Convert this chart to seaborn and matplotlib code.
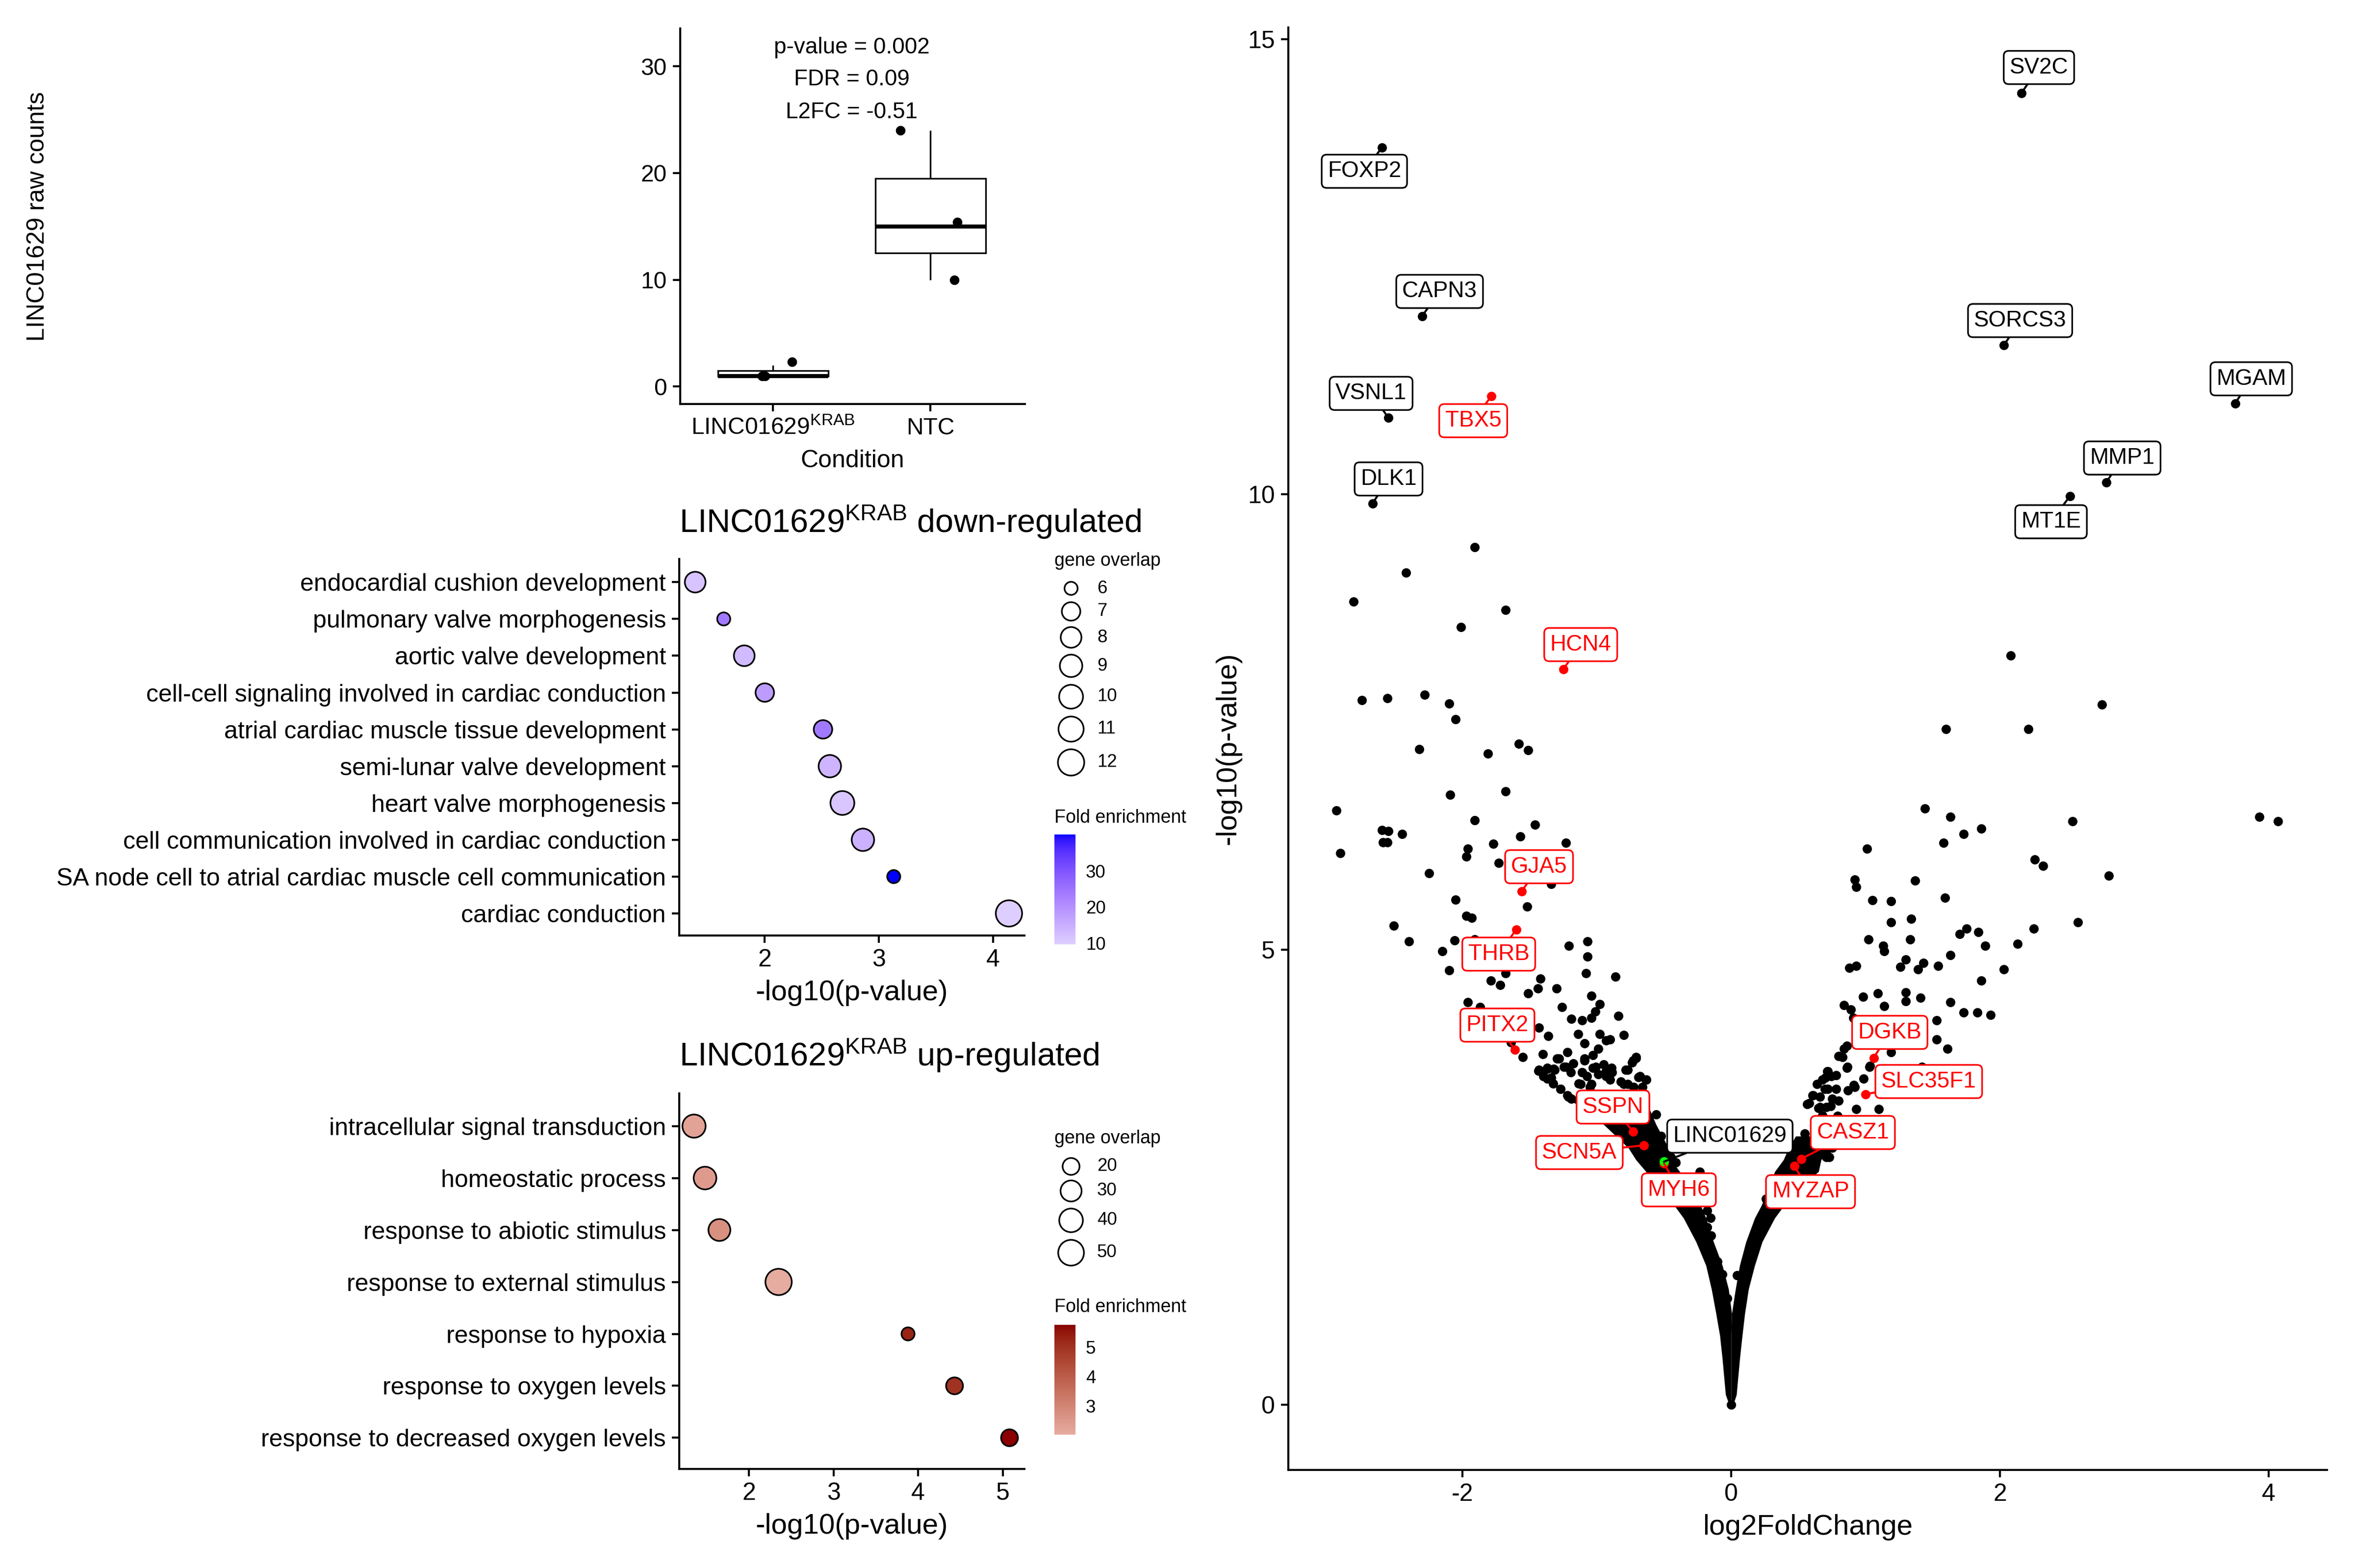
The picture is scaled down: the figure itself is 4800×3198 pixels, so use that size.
import numpy as np
import pandas as pd
import matplotlib
matplotlib.use('Agg')
import matplotlib.pyplot as plt
from matplotlib.colors import ListedColormap, Normalize, to_rgb
from matplotlib.cm import ScalarMappable
import seaborn as sns

# ---------------- data ----------------

# boxplot: LINC01629 raw counts per replicate
box_conditions = ['krab', 'ntc']
counts_krab = [1, 1, 2]
counts_ntc = [10, 15, 24]
# jittered points, as drawn
jit_krab_dx = [-0.07, -0.05, 0.12]
jit_krab_y = [1.0, 1.0, 2.3]
jit_ntc_dx = [-0.19, 0.17, 0.15]
jit_ntc_y = [24.0, 15.4, 10.0]
stats_text = ['p-value = 0.002', 'FDR = 0.09', 'L2FC = -0.51']
stats_y = [31.75, 28.75, 25.7]

# GO terms, down-regulated
down_terms = ['endocardial cushion development', 'pulmonary valve morphogenesis',
              'aortic valve development', 'cell-cell signaling involved in cardiac conduction',
              'atrial cardiac muscle tissue development', 'semi-lunar valve development',
              'heart valve morphogenesis', 'cell communication involved in cardiac conduction',
              'SA node cell to atrial cardiac muscle cell communication', 'cardiac conduction']
down_logp = [1.39, 1.64, 1.82, 2.00, 2.51, 2.57, 2.68, 2.86, 3.13, 4.14]
down_overlap = [8, 6, 8, 7, 7, 9, 10, 9, 6, 12]
down_fe = [11.5, 24.0, 13.0, 18.0, 24.0, 14.0, 11.0, 14.5, 40.1, 9.6]
down_breaks = [6, 7, 8, 9, 10, 11, 12]
down_fe_ticks = [10, 20, 30]

# GO terms, up-regulated
up_terms = ['intracellular signal transduction', 'homeostatic process',
            'response to abiotic stimulus', 'response to external stimulus',
            'response to hypoxia', 'response to oxygen levels',
            'response to decreased oxygen levels']
up_logp = [1.35, 1.48, 1.65, 2.35, 3.88, 4.43, 5.08]
up_overlap = [38, 36, 33, 53, 17, 20, 20]
up_fe = [2.25, 2.45, 2.7, 2.02, 5.3, 5.0, 5.77]
up_breaks = [20, 30, 40, 50]
up_fe_ticks = [3, 4, 5]

# volcano: scattered genes (log2FC, -log10 p)
vol_x = [-1.91, -2.42, -2.81, -1.68, -2.01, 2.08, -2.75, -2.56, -2.28, -2.10, -2.05, 2.76, 1.60, 2.21,
         -2.32, -1.81, -1.58, -1.51,
         -2.09, -1.68, -2.94, -1.91, -1.46, -2.60, -2.55, -2.45, -2.59, -2.56, -1.57, -1.77, -1.23, -1.96,
         -2.91, -1.97, -1.73, -2.25, -1.34, -1.52, -2.05, -1.97, -1.93, -2.51, -2.40, -2.06, -1.91, -2.15,
         -2.10, -1.79, -1.68, -1.72, -1.42, -1.44, -1.30, -1.51, -1.21, -1.07, -1.07, -1.08, -0.86, -1.96,
         -1.87, -1.04, -0.98, -1.26, -1.01, -1.19, -1.11, -1.04, -0.84, -1.43, -1.36, -1.14, -0.98, -0.80,
         -1.09, -0.93, -0.90, -1.64, -1.55, -1.40, -1.28, -1.22, -1.09, -1.03, -0.99, -0.71, -0.73, -1.43,
         -1.37, -1.32, -1.23, -1.11, -1.03, -0.93, -0.89, -0.77, -1.37, -1.27, -1.12, -1.05, -0.90, -0.80,
         -0.68, -0.63, -1.22, -1.19, -0.66,
         3.93, 4.07, 1.44, 1.63, 1.86, 1.73, 1.58, 2.54, 1.01, 2.26, 2.32, 2.81, 0.92, 0.93, 1.37, 1.59,
         1.05, 1.19, 1.19, 1.34, 2.58, 2.25, 1.75, 1.70, 1.84, 1.89, 2.13, 1.02, 1.33, 1.13, 1.14, 1.30,
         1.43, 1.63, 1.26, 1.39, 1.54, 0.88, 0.93, 2.03, 1.86, 0.98, 1.09, 1.30, 1.30, 1.41, 1.14, 1.63,
         1.73, 1.83, 1.93, 0.84, 0.89, 0.91, 1.53, 1.53, 1.61, 1.19, 0.86, 0.84, 0.80, 1.42, 0.86, 1.03,
         0.72, 0.70, 0.78, 0.64, 0.72, 0.92, 0.58, 0.61, 0.66, 0.74, 0.79, 0.68, 0.78, 0.73, 0.71, 0.55,
         -1.435, -1.398, -1.370, -1.339, -1.314, -1.327, -1.296, -1.271, -1.245, -1.212, -1.193, -1.175,
         -1.137, -1.110, -1.091, -1.072, -1.039, -1.007, -0.988, -0.951, -0.932, -0.905, -0.886, -0.821,
         -0.784, -0.769, -0.737, -0.728, -0.709, -0.691, -0.635, -0.560, -0.523, -0.635, -0.676, -0.448,
         -0.411, -0.234, -0.178, -0.154, -0.178, -0.150, -0.104, -0.066, -0.029, 0.0,
         0.827, 0.865, 0.716, 0.743, 0.678, 0.697, 0.780, 0.870, 0.911, 0.985, 1.032, 0.604, 0.660, 0.753,
         0.799, 0.566, 0.650, 0.706, 0.930, 1.097, 0.548, 0.706, 0.753, 0.445, 0.408, 0.297, 0.259, 0.045]
vol_y = [9.42, 9.14, 8.82, 8.73, 8.54, 8.23, 7.74, 7.76, 7.80, 7.70, 7.53, 7.69, 7.42, 7.42,
         7.20, 7.15, 7.26, 7.19,
         6.70, 6.74, 6.53, 6.42, 6.37, 6.31, 6.30, 6.27, 6.18, 6.18, 6.24, 6.16, 6.17, 6.11,
         6.06, 6.02, 5.95, 5.84, 5.72, 5.47, 5.55, 5.37, 5.35, 5.26, 5.09, 5.10, 5.11, 4.98,
         4.77, 4.66, 4.74, 4.61, 4.68, 4.57, 4.57, 4.52, 5.04, 5.09, 4.92, 4.74, 4.70, 4.42,
         4.37, 4.49, 4.40, 4.37, 4.32, 4.24, 4.22, 4.25, 4.27, 4.14, 4.05, 4.07, 4.07, 4.06,
         3.97, 4.00, 4.01, 3.98, 3.82, 3.85, 3.80, 3.87, 3.80, 3.84, 3.91, 3.82, 3.78, 3.68,
         3.69, 3.69, 3.71, 3.65, 3.70, 3.67, 3.70, 3.68, 3.58, 3.47, 3.52, 3.49, 3.57, 3.52,
         3.61, 3.57, 3.40, 3.36, 3.49,
         6.46, 6.41, 6.55, 6.46, 6.33, 6.27, 6.17, 6.41, 6.11, 5.99, 5.92, 5.81, 5.77, 5.69, 5.76, 5.57,
         5.54, 5.53, 5.30, 5.34, 5.30, 5.23, 5.23, 5.17, 5.19, 5.04, 5.06, 5.11, 5.11, 5.04, 4.98, 4.89,
         4.85, 4.94, 4.81, 4.78, 4.82, 4.80, 4.82, 4.78, 4.66, 4.48, 4.52, 4.53, 4.43, 4.47, 4.38, 4.42,
         4.31, 4.31, 4.28, 4.39, 4.34, 4.25, 4.22, 4.01, 3.91, 3.87, 3.94, 3.91, 3.83, 3.71, 3.70, 3.71,
         3.66, 3.59, 3.62, 3.52, 3.47, 3.49, 3.31, 3.40, 3.27, 3.28, 3.17, 3.18, 3.12, 2.72, 2.80, 2.92,
         3.67, 3.61, 3.70, 3.59, 3.68, 3.53, 3.80, 3.47, 3.71, 3.38, 3.65, 3.75,
         3.53, 3.65, 3.78, 3.61, 3.52, 3.71, 3.63, 3.74, 3.61, 3.68, 3.65, 3.55,
         3.68, 3.52, 3.76, 3.49, 3.81, 3.60, 3.57, 3.19, 2.95, 3.05, 2.96, 2.72,
         2.66, 2.56, 2.13, 2.05, 1.95, 1.86, 1.57, 1.43, 1.17, 0.0,
         3.82, 3.71, 3.66, 3.61, 3.57, 3.47, 3.47, 3.45, 3.51, 3.58, 3.72, 3.40, 3.38, 3.36,
         3.34, 3.30, 3.26, 3.27, 3.25, 3.25, 2.98, 2.72, 2.82, 2.77, 2.64, 2.41, 2.26, 1.42]

# volcano: the dense V of non-significant genes, outer/inner edges per -log10 p level
arm_left_y = [0.00, 0.11, 0.50, 0.76, 1.00, 1.27, 1.53, 1.79, 2.05, 2.18, 2.31, 2.56, 2.69, 2.82, 3.08, 3.34]
arm_left_outer = [-0.015, -0.042, -0.066, -0.085, -0.113, -0.147, -0.188, -0.262, -0.355, -0.420,
                  -0.467, -0.634, -0.709, -0.765, -0.951, -1.19]
arm_left_inner = [0.0, 0.0, 0.0, 0.0, 0.004, -0.020, -0.066, -0.132, -0.188, -0.225,
                  -0.262, -0.383, -0.449, -0.467, -0.560, -0.634]
arm_right_y = [0.00, 0.11, 0.50, 0.76, 1.00, 1.27, 1.53, 1.79, 2.05, 2.18, 2.31, 2.56, 2.69, 2.82, 2.95]
arm_right_inner = [0.0, 0.0, 0.0, 0.0, 0.004, 0.032, 0.063, 0.110, 0.175, 0.222, 0.259, 0.324, 0.389, 0.427, 0.48]
arm_right_outer = [0.015, 0.039, 0.063, 0.082, 0.101, 0.129, 0.175, 0.231, 0.324, 0.389, 0.445, 0.650,
                   0.669, 0.743, 0.76]

# volcano: labelled genes
lab_names = ['FOXP2', 'CAPN3', 'VSNL1', 'DLK1', 'SV2C', 'SORCS3', 'MGAM', 'MMP1', 'MT1E',
             'TBX5', 'HCN4', 'GJA5', 'THRB', 'PITX2', 'DGKB', 'SLC35F1', 'SSPN', 'SCN5A',
             'MYH6', 'CASZ1', 'MYZAP', 'LINC01629']
lab_x = [-2.60, -2.30, -2.55, -2.67, 2.16, 2.03, 3.75, 2.79, 2.52,
         -1.785, -1.25, -1.56, -1.60, -1.61, 1.06, 1.00, -0.73, -0.65,
         -0.50, 0.52, 0.47, -0.50]
lab_y = [13.81, 11.96, 10.84, 9.90, 14.41, 11.64, 11.00, 10.13, 9.98,
         11.08, 8.08, 5.64, 5.22, 3.90, 3.81, 3.41, 3.00, 2.85,
         2.65, 2.70, 2.62, 2.67]
lab_tx = [-2.73, -2.17, -2.68, -2.55, 2.29, 2.15, 3.87, 2.91, 2.38,
          -1.92, -1.12, -1.43, -1.73, -1.74, 1.18, 1.47, -0.88, -1.13,
          -0.39, 0.905, 0.59, -0.01]
lab_ty = [13.55, 12.23, 11.11, 10.17, 14.69, 11.91, 11.27, 10.40, 9.70,
          10.81, 8.35, 5.91, 4.95, 4.17, 4.09, 3.55, 3.27, 2.77,
          2.36, 2.99, 2.34, 2.95]
lab_group = ['top'] * 9 + ['cardiac'] * 12 + ['target']

# ---------------- style ----------------
sns.set_style('ticks', rc={'axes.edgecolor': 'black', 'xtick.color': 'black', 'ytick.color': 'black',
                           'text.color': 'black', 'axes.labelcolor': 'black'})
plt.rcParams['font.family'] = ['Liberation Sans', 'DejaVu Sans']
plt.rcParams['mathtext.fontset'] = 'custom'
plt.rcParams['mathtext.rm'] = 'Liberation Sans'
plt.rcParams['mathtext.it'] = 'Liberation Sans:italic'
plt.rcParams['mathtext.bf'] = 'Liberation Sans:bold'
plt.rcParams['axes.unicode_minus'] = False
plt.rcParams['axes.linewidth'] = 1.0

KRAB = r'LINC01629$^{\mathrm{KRAB}}$'


# ggplot-like gradient (interpolated in CIELAB)
M_XYZ = np.array([[0.4124, 0.3576, 0.1805], [0.2126, 0.7152, 0.0722], [0.0193, 0.1192, 0.9505]])
WHITE = np.array([0.95047, 1.0, 1.08883])


def to_lab(col):
    rgb = np.array(to_rgb(col))
    lin = np.where(rgb <= 0.04045, rgb / 12.92, ((rgb + 0.055) / 1.055) ** 2.4)
    t = M_XYZ @ lin / WHITE
    f = np.where(t > (6 / 29) ** 3, np.cbrt(t), t / (3 * (6 / 29) ** 2) + 4 / 29)
    return np.array([116 * f[1] - 16, 500 * (f[0] - f[1]), 200 * (f[1] - f[2])])


def lab_cmap(low, high, n=256):
    t = np.linspace(0, 1, n)[:, None]
    lab = to_lab(low) * (1 - t) + to_lab(high) * t
    fy = (lab[:, 0] + 16) / 116
    f = np.stack([fy + lab[:, 1] / 500, fy, fy - lab[:, 2] / 200], -1)
    xyz = np.where(f > 6 / 29, f ** 3, 3 * (6 / 29) ** 2 * (f - 4 / 29)) * WHITE
    lin = xyz @ np.linalg.inv(M_XYZ).T
    lin = np.clip(lin, 0, None)
    rgb = np.where(lin <= 0.0031308, 12.92 * lin, 1.055 * lin ** (1 / 2.4) - 0.055)
    return ListedColormap(np.clip(rgb, 0, 1))


cmap_down = lab_cmap('#DECEFF', '#0000FF')
cmap_up = lab_cmap('#E6ACA0', '#8B0000')


def diam_px(v, lo, hi):
    return 30 + 27 * np.sqrt((np.asarray(v, float) - lo) / (hi - lo))


def area_pt(d, lw=0.8):
    return (np.asarray(d) * 72 / 300 - lw) ** 2


# ---------------- layout ----------------
W, H = 4800, 3198
fig = plt.figure(figsize=(16, 10.66), dpi=300)


def px_axes(left, top, right, bottom):
    return fig.add_axes([left / W, 1 - bottom / H, (right - left) / W, (bottom - top) / H])


overlay = px_axes(0, 0, W, H)
overlay.set_xlim(0, W)
overlay.set_ylim(H, 0)
overlay.axis('off')

ax_box = px_axes(1387, 58, 2090, 824)
ax_down = px_axes(1385, 1140, 2089, 1908)
ax_up = px_axes(1385, 2230, 2089, 2996)
ax_vol = px_axes(2627, 56, 4745, 2998)

tick_kw = dict(length=3.7, width=1.0, pad=2.8, colors='black')

# ---------------- boxplot ----------------
box_df = pd.DataFrame({'condition': ['krab'] * len(counts_krab) + ['ntc'] * len(counts_ntc),
                       'count': counts_krab + counts_ntc})
sns.boxplot(data=box_df, x='condition', y='count', order=box_conditions, color='white',
            linecolor='black', linewidth=0.8, width=0.7, showcaps=False, showfliers=False,
            medianprops={'linewidth': 2.0}, ax=ax_box)
pts_x = [0 + d for d in jit_krab_dx] + [1 + d for d in jit_ntc_dx]
pts_y = jit_krab_y + jit_ntc_y
sns.scatterplot(x=pts_x, y=pts_y, color='black', s=22, linewidth=0, ax=ax_box, zorder=3)
for t, y in zip(stats_text, stats_y):
    ax_box.text(0.5, y, t, ha='center', va='center', fontsize=11)
ax_box.set_xlim(-0.59, 1.6)
ax_box.set_ylim(-1.64, 33.55)
ax_box.set_yticks([0, 10, 20, 30])
ax_box.set_xticks([0, 1])
ax_box.set_xticklabels([KRAB, 'NTC'])
ax_box.tick_params(labelsize=11.5, **tick_kw)
ax_box.set_xlabel('Condition', fontsize=12, labelpad=5)
ax_box.set_ylabel('')
sns.despine(ax=ax_box)
overlay.text(77, 442, 'LINC01629 raw counts', rotation=90, ha='center', va='center', fontsize=12)


# ---------------- GO dot plots ----------------
def dot_panel(ax, terms, logp, overlap, fe, cmap, xlim, xticks, title, title_y):
    pos = np.arange(len(terms))
    lo, hi = min(overlap), max(overlap)
    sizes = area_pt(diam_px(overlap, lo, hi))
    sns.scatterplot(x=logp, y=pos, hue=fe, hue_norm=(min(fe), max(fe)), palette=cmap,
                    s=sizes, edgecolor='black', linewidth=0.8, legend=False, ax=ax, zorder=3)
    ax.set_yticks(pos)
    ax.set_yticklabels(terms)
    ax.set_ylim(len(terms) - 0.4, -0.63)
    ax.set_xlim(*xlim)
    ax.set_xticks(xticks)
    ax.tick_params(labelsize=12, **tick_kw)
    ax.set_xlabel('-log10(p-value)', fontsize=14, labelpad=4)
    ax.set_ylabel('')
    ax.text(0, title_y, KRAB + title, transform=ax.transAxes, ha='left', va='baseline', fontsize=16)
    sns.despine(ax=ax)


dot_panel(ax_down, down_terms, down_logp, down_overlap, down_fe, cmap_down,
          (1.25, 4.276), [2, 3, 4], ' down-regulated', 1.07)
dot_panel(ax_up, up_terms, up_logp, up_overlap, up_fe, cmap_up,
          (1.175, 5.257), [2, 3, 4, 5], ' up-regulated', 1.073)


def legends(breaks, overlap, key_y, title_y, fe, cmap, cb_top, cb_ticks, fe_title_y):
    lo, hi = min(overlap), max(overlap)
    overlay.text(2150, title_y, 'gene overlap', ha='left', va='center', fontsize=9)
    overlay.scatter([2184] * len(breaks), key_y, s=area_pt(diam_px(breaks, lo, hi)),
                    facecolor='white', edgecolor='black', linewidth=0.8)
    for b, y in zip(breaks, key_y):
        overlay.text(2237, y, str(b), ha='left', va='center', fontsize=8.8)
    overlay.text(2150, fe_title_y, 'Fold enrichment', ha='left', va='center', fontsize=9)
    cax = px_axes(2150, cb_top, 2193, cb_top + 224)
    cb = fig.colorbar(ScalarMappable(norm=Normalize(min(fe), max(fe)), cmap=cmap), cax=cax,
                      ticks=cb_ticks)
    cb.outline.set_visible(False)
    cax.tick_params(axis='y', direction='in', length=2.2, width=0.8, color='white',
                    left=True, right=True, labelleft=False, labelright=True,
                    labelsize=8.8, labelcolor='black', pad=5)


legends(down_breaks, down_overlap, [1200, 1247, 1300, 1358, 1421, 1487, 1555], 1144,
        down_fe, cmap_down, 1702, down_fe_ticks, 1668)
legends(up_breaks, up_overlap, [2379, 2429, 2489, 2555], 2322,
        up_fe, cmap_up, 2702, up_fe_ticks, 2666)

# ---------------- volcano ----------------
ax_vol.fill_betweenx(arm_left_y, arm_left_outer, arm_left_inner, color='black', linewidth=0, zorder=1)
ax_vol.fill_betweenx(arm_right_y, arm_right_inner, arm_right_outer, color='black', linewidth=0, zorder=1)
sns.scatterplot(x=vol_x, y=vol_y, color='black', s=21, linewidth=0, ax=ax_vol, zorder=2)

lab_df = pd.DataFrame({'name': lab_names, 'x': lab_x, 'y': lab_y, 'tx': lab_tx, 'ty': lab_ty,
                       'group': lab_group})
point_colors = {'top': 'black', 'cardiac': '#FF0000', 'target': '#00FF00'}
text_colors = {'top': 'black', 'cardiac': '#FF0000', 'target': 'black'}
for grp in ['top', 'cardiac', 'target']:
    sub = lab_df[lab_df['group'] == grp]
    sns.scatterplot(data=sub, x='x', y='y', color=point_colors[grp], s=21, linewidth=0,
                    ax=ax_vol, zorder=3 if grp != 'target' else 4)
for _, r in lab_df.iterrows():
    c = text_colors[r['group']]
    ax_vol.annotate(r['name'], xy=(r['x'], r['y']), xytext=(r['tx'], r['ty']),
                    ha='center', va='center', fontsize=11, color=c, zorder=6,
                    bbox=dict(boxstyle='round,pad=0.26,rounding_size=0.22', fc='white', ec=c, lw=0.8),
                    arrowprops=dict(arrowstyle='-', color=c, lw=1.0, shrinkA=0, shrinkB=0))

ax_vol.set_xlim(-3.296, 4.434)
ax_vol.set_ylim(-0.717, 15.13)
ax_vol.set_xticks([-2, 0, 2, 4])
ax_vol.set_yticks([0, 5, 10, 15])
ax_vol.tick_params(labelsize=12, **tick_kw)
ax_vol.set_xlabel('log2FoldChange', fontsize=14, labelpad=4)
ax_vol.set_ylabel('-log10(p-value)', fontsize=14, labelpad=3)
sns.despine(ax=ax_vol)

fig.savefig('out.png', dpi=300)
